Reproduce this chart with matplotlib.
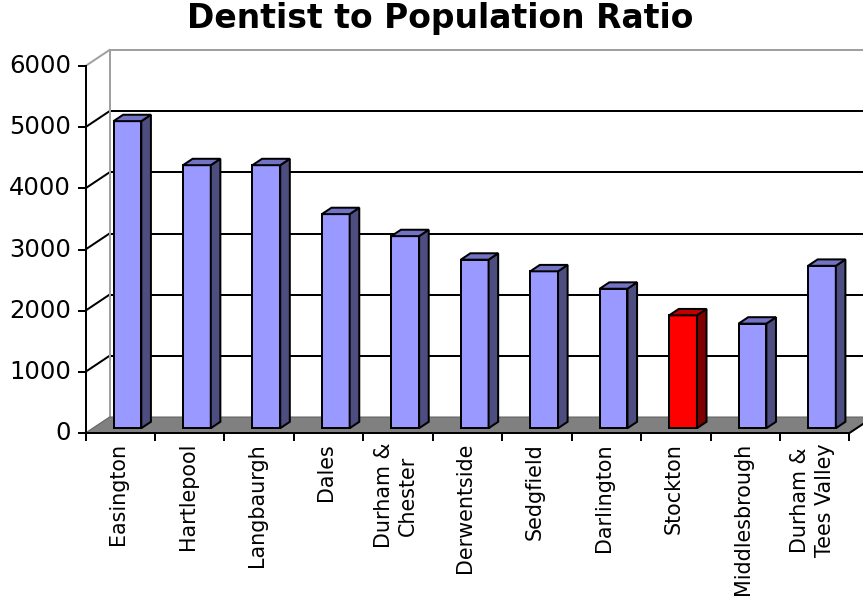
import numpy as np
import matplotlib
matplotlib.use("Agg")
import matplotlib.pyplot as plt
from matplotlib.patches import Polygon

categories = ["Easington", "Hartlepool", "Langbaurgh", "Dales", "Durham &\nChester",
              "Derwentside", "Sedgfield", "Darlington", "Stockton", "Middlesbrough",
              "Durham &\nTees Valley"]
values = [5020, 4300, 4300, 3500, 3140, 2755, 2565, 2280, 1845, 1710, 2655]
highlight = "Stockton"
yticks = [0, 1000, 2000, 3000, 4000, 5000, 6000]

# pixel geometry of the fake 3d box (863x596 canvas)
X0, PX_U = 85.5, 69.45          # px of u=0, px per category
Y0, PX_V = 433.0, 367.0 / 6000  # px of v=0, px per unit value
DU = 24.0 / PX_U                # depth offset in category units
DV = 16.0 / PX_V                # depth offset in value units
ncat = len(categories)
vmax = 6000


def P(u, v, d=0.0):
    return (u + d * DU, v + d * DV)


def px_u(x):
    return (x - X0) / PX_U


def px_v(y):
    return (Y0 - y) / PX_V


fig = plt.figure(figsize=(8.63, 5.96), dpi=100)
ax = fig.add_axes([0, 0, 1, 1])
ax.set_xlim(px_u(0), px_u(863))
ax.set_ylim(px_v(596), px_v(0))
ax.axis("off")

grey = "#808080"
lw_px = 0.72  # points per pixel

# back wall gridlines and side wall lines
for t in yticks[1:-1]:
    ax.plot(*zip(P(0, t, 1), P(ncat, t, 1)), color="black", lw=2 * lw_px, zorder=1)
    ax.plot(*zip(P(0, t, 0), P(0, t, 1)), color="black", lw=2 * lw_px, zorder=1)
# wall borders
ax.plot(*zip(P(0, 0, 1), P(0, vmax, 1), P(ncat, vmax, 1)), color="#a0a0a0", lw=2 * lw_px, zorder=1)
ax.plot(*zip(P(0, vmax, 0), P(0, vmax, 1)), color="#a0a0a0", lw=2 * lw_px, zorder=1)

# floor
floor = [P(0, 0, 0), P(ncat, 0, 0), P(ncat, 0, 1), P(0, 0, 1)]
ax.add_patch(Polygon(floor, closed=True, facecolor=grey, edgecolor="#606060", lw=1 * lw_px, zorder=2))
ax.plot(*zip(P(ncat, 0, 0), P(ncat, 0, 1)), color="black", lw=2 * lw_px, zorder=3)

# bars
w = 0.4
d0, d1 = 0.3, 0.7
for i, (cat, val) in enumerate(zip(categories, values)):
    if cat == highlight:
        front, top, side = "#ff0000", "#c00000", "#800000"
    else:
        front, top, side = "#9999ff", "#7373c6", "#4d4d80"
    l, r = i + 0.5 - w / 2, i + 0.5 + w / 2
    faces = [
        ([P(l, 0, d0), P(r, 0, d0), P(r, val, d0), P(l, val, d0)], front),
        ([P(r, 0, d0), P(r, 0, d1), P(r, val, d1), P(r, val, d0)], side),
        ([P(l, val, d0), P(r, val, d0), P(r, val, d1), P(l, val, d1)], top),
    ]
    for pts, col in faces:
        ax.add_patch(Polygon(pts, closed=True, facecolor=col, edgecolor="black",
                             lw=2 * lw_px, joinstyle="miter", zorder=4 + i))

# front value axis
ax.plot([0, 0], [0, vmax], color="black", lw=2 * lw_px, zorder=20)
ax.plot([0, ncat], [0, 0], color="black", lw=2 * lw_px, zorder=20)
for t in yticks:
    ax.plot([px_u(79), 0], [t, t], color="black", lw=2 * lw_px, zorder=20)
    ax.text(px_u(71), t, str(t), ha="right", va="center", fontsize=17.5,
            family="DejaVu Sans", color="black")

# category ticks and labels
for i in range(ncat + 1):
    ax.plot([i, i], [0, px_v(440)], color="black", lw=2 * lw_px, zorder=20)
for i, cat in enumerate(categories):
    ax.text(i + 0.47, px_v(443), cat, rotation=90, ha="center", va="top",
            multialignment="center", fontsize=14.9, linespacing=1.3,
            family="DejaVu Sans", color="black")

fig.text(440 / 863, 1 - 28 / 596, "Dentist to Population Ratio", ha="center",
         va="baseline", fontsize=23.8, fontweight="bold", family="DejaVu Sans")

fig.savefig("out.png", dpi=100)
